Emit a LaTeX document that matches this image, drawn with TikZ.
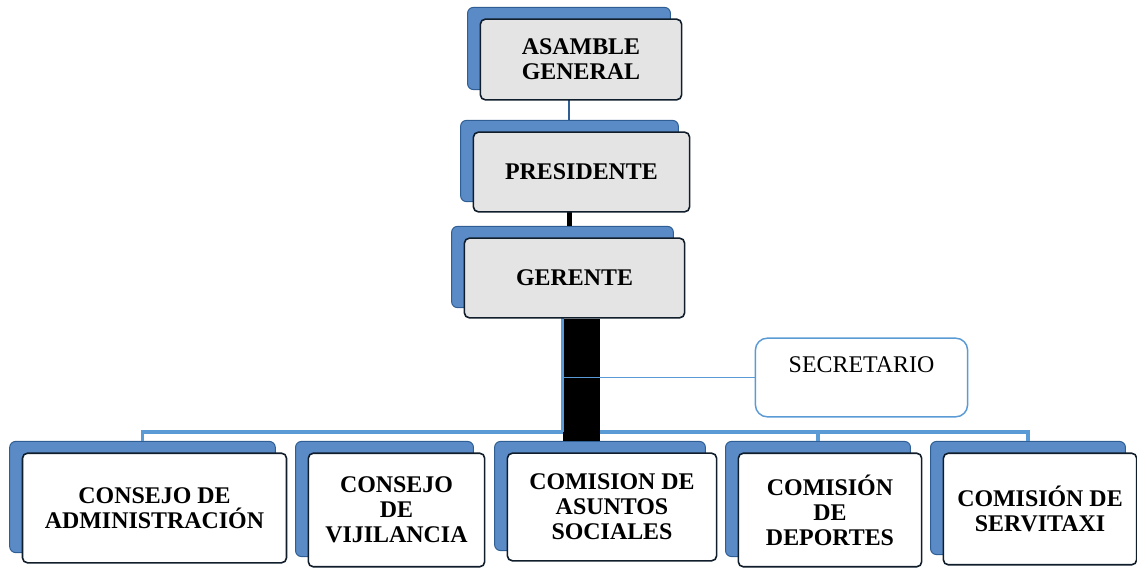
\documentclass[tikz,border=0pt]{standalone}
\usepackage{fontspec}
\setmainfont{Liberation Serif}
\usetikzlibrary{positioning,fit,backgrounds}
\definecolor{navy}{HTML}{101D2B}
\definecolor{boxgray}{HTML}{E4E4E4}
\definecolor{shadeblue}{HTML}{5B8BC7}
\definecolor{deepblue}{HTML}{2E5E93}
\definecolor{linkblue}{HTML}{5B9BD5}
\tikzset{
  topbox/.style={
    rounded corners=5pt,draw=navy,fill=boxgray,
    line width=1.6pt,inner sep=0pt,
    align=center,font=\fontsize{24}{25}\selectfont\bfseries
  },
  lowbox/.style={topbox,fill=white},
  backbox/.style={
    rounded corners=6pt,draw=deepblue,fill=shadeblue,
    line width=1pt,inner sep=0pt
  },
  notebox/.style={
    rounded corners=12pt,draw=linkblue,fill=white,
    line width=1.5pt,inner sep=0pt,
    align=center,font=\fontsize{24}{25}\selectfont
  },
  link/.style={draw=linkblue,line width=3.5pt},
  thinlink/.style={draw=linkblue,line width=1pt},
  darklink/.style={draw=deepblue,line width=2pt},
  blacklink/.style={draw=black,line width=5pt},
  blackbar/.style={draw=black,line width=37pt}
}
\begin{document}
\begin{tikzpicture}[x=1bp,y=-1bp]
\useasboundingbox (0,0) rectangle (1137,571);

% upper chain
\node[topbox,minimum width=202,minimum height=81] (asamblea) at (581,59.5)
{ASAMBLE\\GENERAL};
\node[topbox,minimum width=217,minimum height=80] (presidente) at (581.5,172)
{PRESIDENTE};
\node[topbox,minimum width=221,minimum height=80] (gerente) at (574.5,278)
{GERENTE};

\node[notebox,minimum width=213,minimum height=79] (secretario) at (861.5,377.5)
{SECRETARIO\\\mbox{}};

% lower row
\node[lowbox,minimum width=265,minimum height=110] (admin) at (154.5,508)
{CONSEJO DE\\ADMINISTRACIÓN};
\node[lowbox,minimum width=177,minimum height=114] (vigilancia) at (396.5,510)
{CONSEJO\\DE\\VIJILANCIA};
\node[lowbox,minimum width=210,minimum height=108] (sociales) at (612,507)
{COMISION DE\\ASUNTOS\\SOCIALES};
\node[lowbox,minimum width=184,minimum height=114] (deportes) at (830,510)
{COMISIÓN\\DE\\DEPORTES};
\node[lowbox,minimum width=194,minimum height=112] (servitaxi) at (1040,509)
{COMISIÓN DE\\SERVITAXI};

\coordinate (bus) at (0,432);

\begin{scope}[on background layer]
\foreach \n in {asamblea,presidente,gerente,admin,vigilancia,sociales,deportes,servitaxi}
  \node[backbox,fit=(\n),shift={(-12,-11)}] (\n-b) {};

\draw[darklink] (asamblea-b.south) -- (asamblea-b.south |- presidente-b.north);
\draw[blacklink] (presidente-b.south) -- (presidente-b.south |- gerente-b.north);
\draw[link] (admin-b.north) |- (bus -| servitaxi-b.north) -- (servitaxi-b.north);
\draw[link] (deportes-b.north) -- (deportes-b.north |- bus);
\draw[blackbar] ([xshift=7]gerente.south) -- ([xshift=7]gerente.south |- sociales-b.north);
\draw[link] (gerente-b.south) -- (gerente-b.south |- bus);
\draw[thinlink] (secretario.west) -- (secretario.west -| gerente-b.south);
\end{scope}
\end{tikzpicture}
\end{document}
